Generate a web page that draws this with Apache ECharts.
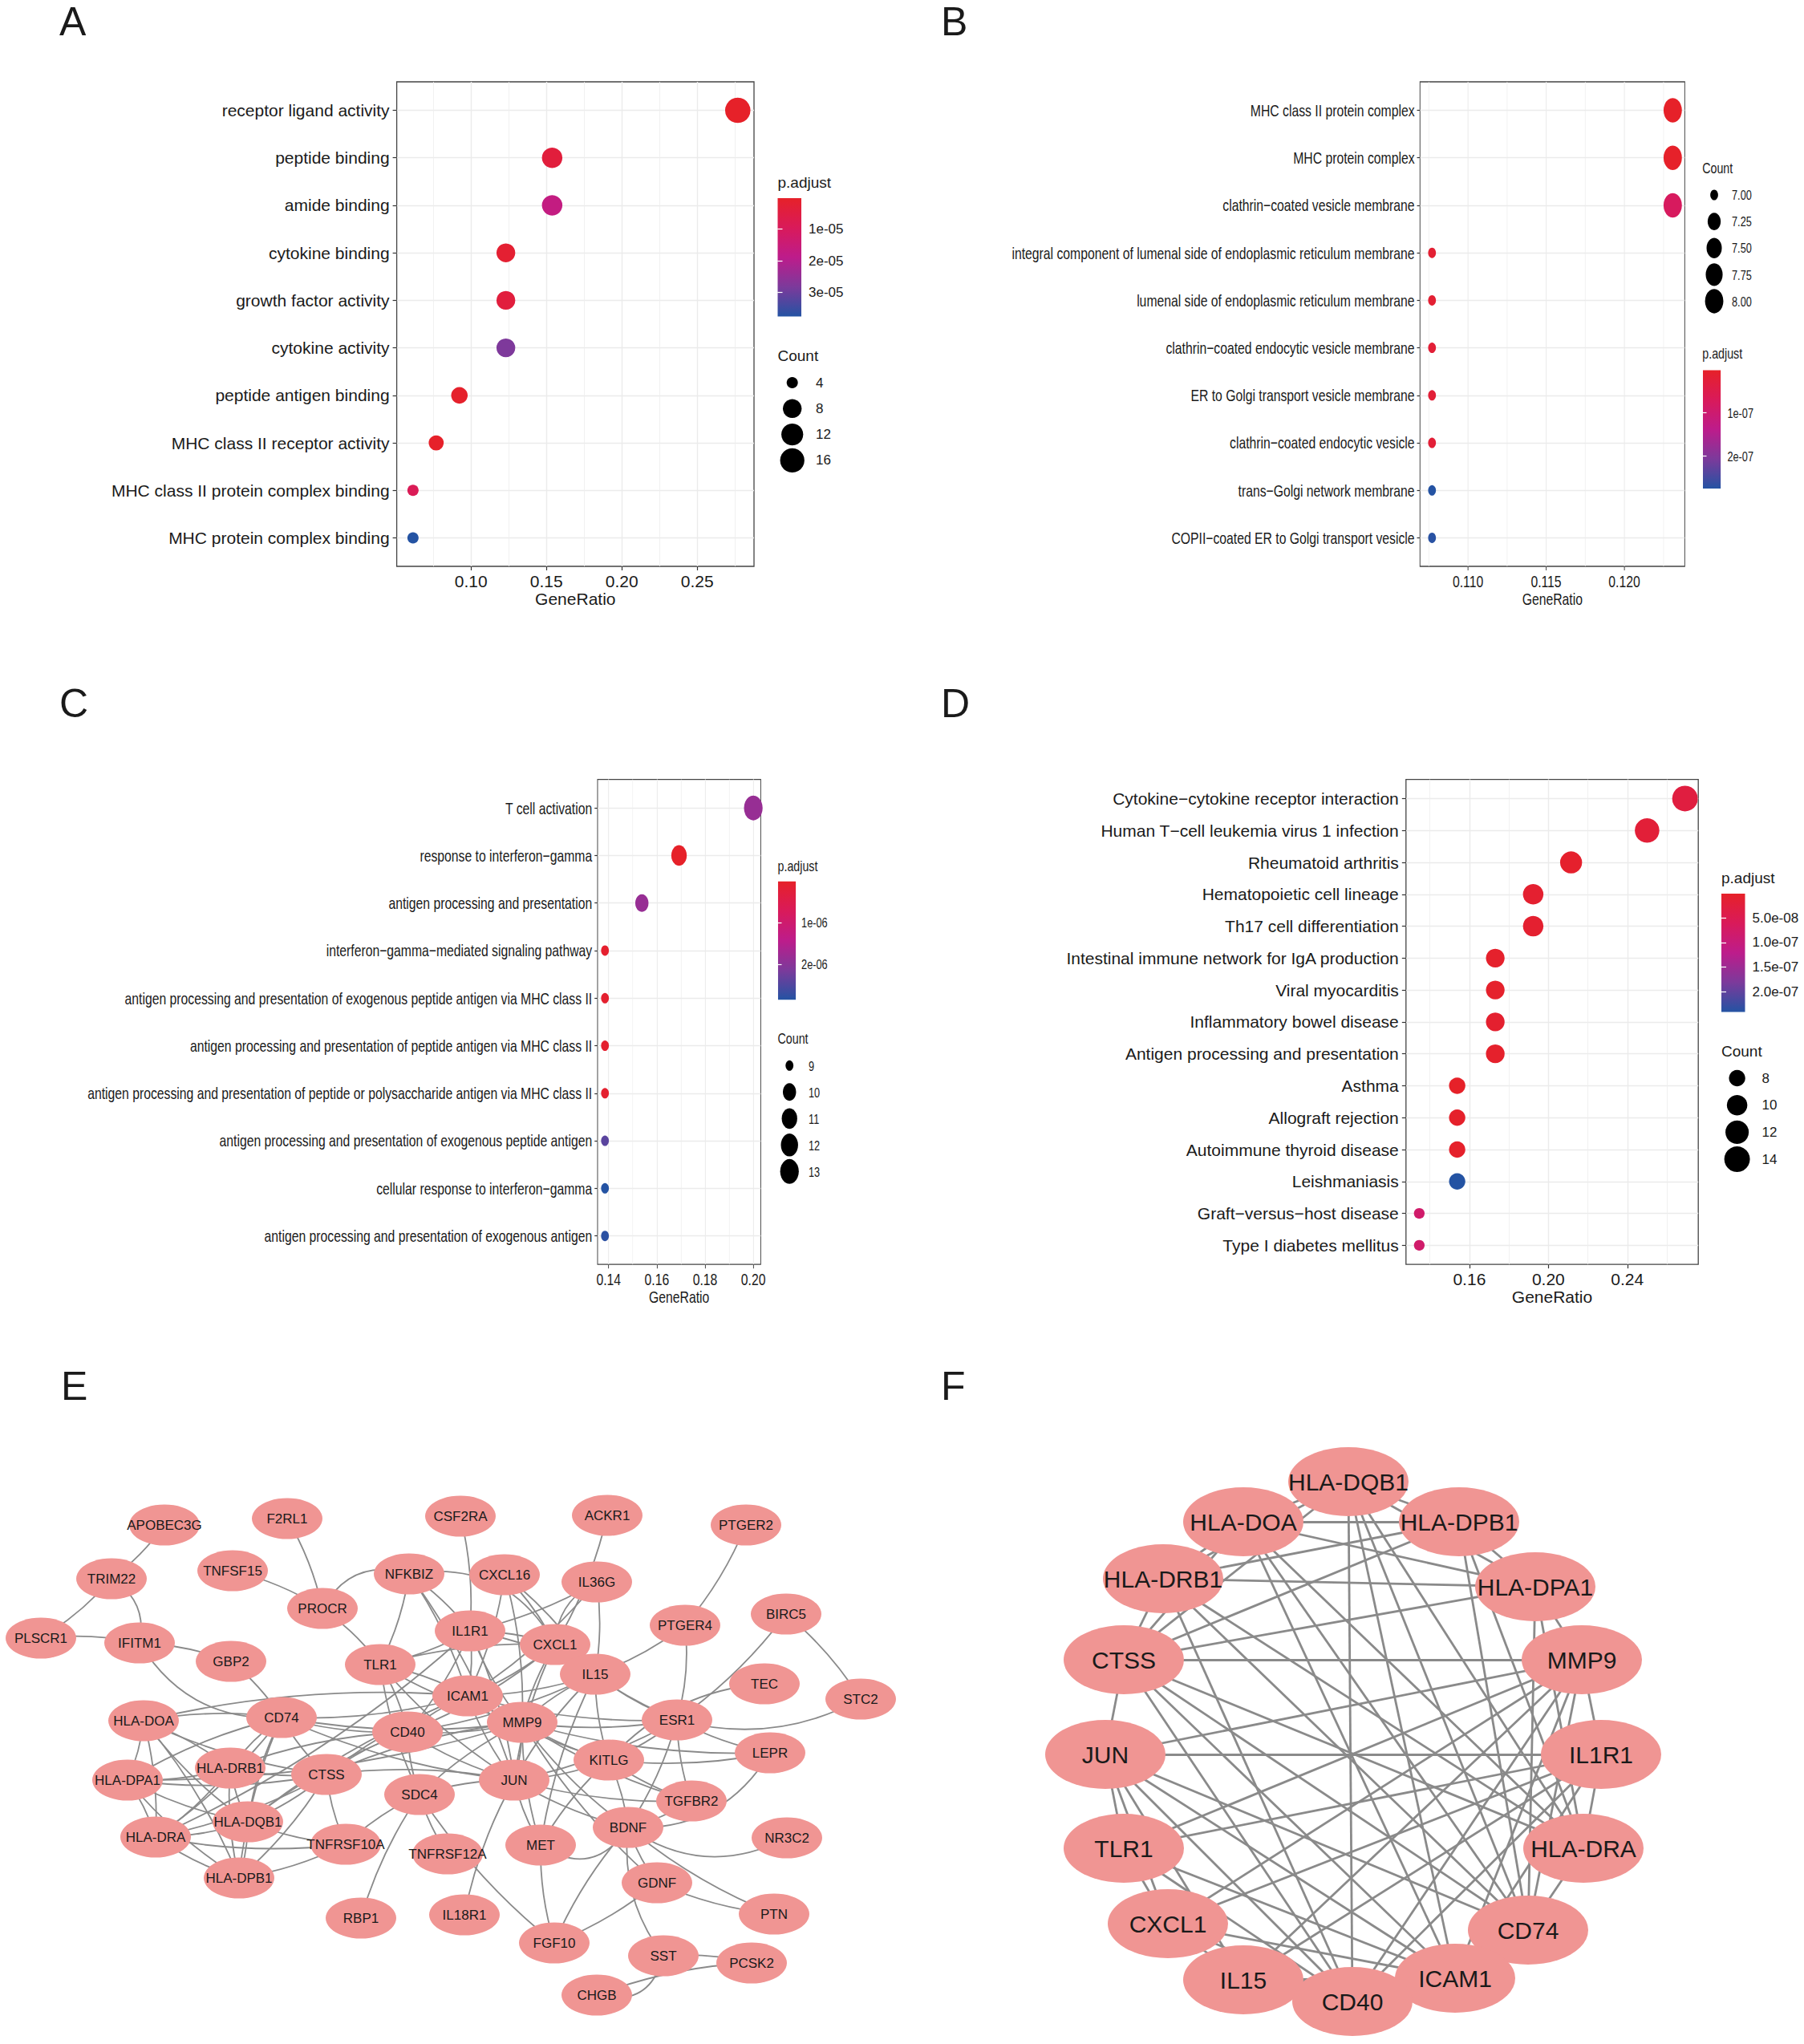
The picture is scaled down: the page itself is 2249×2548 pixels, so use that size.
<!DOCTYPE html>
<html><head><meta charset="utf-8">
<script src="https://cdn.jsdelivr.net/npm/echarts@6/dist/echarts.min.js"></script>
<style>
html,body{margin:0;padding:0;background:#fff;overflow:hidden;}
#page{position:relative;width:2249px;height:2548px;overflow:hidden;background:#fff;}
.pane{position:absolute;}
</style></head><body><div id="page">
<div id="letters" class="pane" style="left:0;top:0;width:2249px;height:2548px"></div>
<div id="pA" class="pane" style="left:0;top:0;width:1124px;height:840px"></div>
<div id="pB" class="pane" style="left:1124px;top:0;width:1500px;height:840px;transform:scaleX(0.75);transform-origin:0 0"></div>
<div id="pC" class="pane" style="left:0;top:840px;width:1498px;height:860px;transform:scaleX(0.75);transform-origin:0 0"></div>
<div id="pD" class="pane" style="left:1124px;top:840px;width:1125px;height:860px"></div>
<div id="pE" class="pane" style="left:0;top:1700px;width:1124px;height:848px"></div>
<div id="pF" class="pane" style="left:1124px;top:1700px;width:1125px;height:848px"></div>
</div>
<script>
// ---------------- DATA ----------------
// Panel A (GO MF)
const catA = ['receptor ligand activity','peptide binding','amide binding','cytokine binding','growth factor activity','cytokine activity','peptide antigen binding','MHC class II receptor activity','MHC class II protein complex binding','MHC protein complex binding'];
const ratioA = [0.2769,0.1538,0.1538,0.1231,0.1231,0.1231,0.0923,0.0769,0.0615,0.0615];
const countA = [18,10,10,8,8,8,6,5,4,4];
const padjA = [2e-7,3.8e-6,1.7e-5,1.9e-6,4.0e-6,2.8e-5,8e-7,4e-7,8.7e-6,3.76e-5];
const xTicksA = [0.10,0.15,0.20,0.25];
const xMinorA = [0.075,0.125,0.175,0.225,0.275];
const pTicksA = [1e-5,2e-5,3e-5];
const pLabelsA = ['1e-05','2e-05','3e-05'];
const keysA = [4,8,12,16];
const keyLabelsA = ['4','8','12','16'];

// Panel B (GO CC)
const catB = ['MHC class II protein complex','MHC protein complex','clathrin\u2212coated vesicle membrane','integral component of lumenal side of endoplasmic reticulum membrane','lumenal side of endoplasmic reticulum membrane','clathrin\u2212coated endocytic vesicle membrane','ER to Golgi transport vesicle membrane','clathrin\u2212coated endocytic vesicle','trans\u2212Golgi network membrane','COPII\u2212coated ER to Golgi transport vesicle'];
const ratioB = [0.1231,0.1231,0.1231,0.1077,0.1077,0.1077,0.1077,0.1077,0.1077,0.1077];
const countB = [8,8,8,7,7,7,7,7,7,7];
const padjB = [1e-9,3e-9,7.5e-8,1.5e-8,1.5e-8,2e-8,2e-8,2e-8,2.76e-7,2.72e-7];
const xTicksB = [0.110,0.115,0.120];
const xMinorB = [0.1075,0.1125,0.1175,0.1225];
const pTicksB = [1e-7,2e-7];
const pLabelsB = ['1e-07','2e-07'];
const keysB = [7,7.25,7.5,7.75,8];
const keyLabelsB = ['7.00','7.25','7.50','7.75','8.00'];

// Panel C (GO BP)
const catC = ['T cell activation','response to interferon\u2212gamma','antigen processing and presentation','interferon\u2212gamma\u2212mediated signaling pathway','antigen processing and presentation of exogenous peptide antigen via MHC class II','antigen processing and presentation of peptide antigen via MHC class II','antigen processing and presentation of peptide or polysaccharide antigen via MHC class II','antigen processing and presentation of exogenous peptide antigen','cellular response to interferon\u2212gamma','antigen processing and presentation of exogenous antigen'];
const ratioC = [0.2000,0.1692,0.1538,0.1385,0.1385,0.1385,0.1385,0.1385,0.1385,0.1385];
const countC = [13,11,10,9,9,9,9,9,9,9];
const padjC = [1.85e-6,1e-8,1.85e-6,8e-8,1e-7,1e-7,1e-7,2.42e-6,2.854e-6,2.8e-6];
const xTicksC = [0.14,0.16,0.18,0.20];
const xMinorC = [0.15,0.17,0.19];
const pTicksC = [1e-6,2e-6];
const pLabelsC = ['1e-06','2e-06'];
const keysC = [9,10,11,12,13];
const keyLabelsC = ['9','10','11','12','13'];

// Panel D (KEGG)
const catD = ['Cytokine\u2212cytokine receptor interaction','Human T\u2212cell leukemia virus 1 infection','Rheumatoid arthritis','Hematopoietic cell lineage','Th17 cell differentiation','Intestinal immune network for IgA production','Viral myocarditis','Inflammatory bowel disease','Antigen processing and presentation','Asthma','Allograft rejection','Autoimmune thyroid disease','Leishmaniasis','Graft\u2212versus\u2212host disease','Type I diabetes mellitus'];
const ratioD = [0.2692,0.2500,0.2115,0.1923,0.1923,0.1731,0.1731,0.1731,0.1731,0.1538,0.1538,0.1538,0.1538,0.1346,0.1346];
const countD = [14,13,11,10,10,9,9,9,9,8,8,8,8,7,7];
const padjD = [2.9e-8,1.9e-8,6e-9,9e-9,9e-9,5e-9,5e-9,8e-9,5e-9,1e-9,4e-9,4e-9,2.41e-7,8e-8,8e-8];
const xTicksD = [0.16,0.20,0.24];
const xMinorD = [0.14,0.18,0.22,0.26];
const pTicksD = [5e-8,1e-7,1.5e-7,2e-7];
const pLabelsD = ['5.0e-08','1.0e-07','1.5e-07','2.0e-07'];
const keysD = [8,10,12,14];
const keyLabelsD = ['8','10','12','14'];

// Panel E (PPI network) : node layout coordinates
const nodesE = [
 ['APOBEC3G',205,201],['F2RL1',358,193],['CSF2RA',574,190],['ACKR1',757,189],['PTGER2',930,201],
 ['TRIM22',139,268],['TNFSF15',290,258],['NFKBIZ',510,262],['CXCL16',629,263],['IL36G',744,272],
 ['PROCR',402,305],['PTGER4',854,326],['BIRC5',980,312],['PLSCR1',51,342],['IFITM1',174,348],
 ['IL1R1',586,333],['CXCL1',692,350],['GBP2',288,371],['TLR1',474,375],['IL15',742,387],
 ['TEC',953,399],['STC2',1073,418],['ICAM1',583,414],['HLA-DOA',179,445],['CD74',351,441],
 ['CD40',508,459],['MMP9',651,447],['ESR1',844,444],['LEPR',960,485],['HLA-DRB1',287,504],
 ['HLA-DPA1',159,519],['CTSS',407,512],['KITLG',759,494],['JUN',641,519],['SDC4',523,537],
 ['TGFBR2',862,545],['HLA-DQB1',309,571],['BDNF',783,578],['NR3C2',981,591],['HLA-DRA',194,590],
 ['TNFRSF10A',431,599],['MET',674,600],['TNFRSF12A',558,611],['HLA-DPB1',298,641],['GDNF',819,647],
 ['RBP1',450,691],['IL18R1',579,687],['PTN',965,686],['FGF10',691,722],['SST',827,738],
 ['PCSK2',937,747],['CHGB',744,787]
];
// Panel F (hub genes) : node layout coordinates
const nodesF = [
 ['HLA-DQB1',557,147],['HLA-DOA',426,197],['HLA-DPB1',695,197],['HLA-DRB1',326,268],['HLA-DPA1',790,278],
 ['CTSS',277,369],['MMP9',848,369],['JUN',254,487],['IL1R1',872,487],['TLR1',277,604],['HLA-DRA',850,604],
 ['CXCL1',332,698],['CD74',781,706],['IL15',426,768],['ICAM1',690,766],['CD40',562,795]
];
// Edges among hub genes (present in both E and F)
const hubEdges = [
 ['HLA-DQB1','HLA-DOA'],['HLA-DQB1','HLA-DPB1'],['HLA-DOA','HLA-DPB1'],['HLA-DOA','HLA-DRB1'],['HLA-DOA','HLA-DPA1'],
 ['HLA-DPB1','HLA-DRB1'],['HLA-DPB1','HLA-DPA1'],['HLA-DRB1','HLA-DPA1'],['HLA-DQB1','HLA-DRB1'],['HLA-DQB1','HLA-DPA1'],
 ['HLA-DQB1','CD74'],['HLA-DQB1','HLA-DRA'],['HLA-DOA','CD74'],['HLA-DOA','HLA-DRA'],['HLA-DRB1','CD74'],
 ['HLA-DRB1','HLA-DRA'],['HLA-DPB1','CD74'],['HLA-DPB1','HLA-DRA'],['HLA-DPA1','CD74'],['HLA-DPA1','HLA-DRA'],
 ['CD74','HLA-DRA'],['CTSS','HLA-DRB1'],['CTSS','HLA-DPB1'],['CTSS','HLA-DPA1'],['CTSS','HLA-DOA'],['CTSS','HLA-DQB1'],
 ['CTSS','CD74'],['CTSS','HLA-DRA'],['CTSS','MMP9'],['CTSS','JUN'],['CTSS','CD40'],['CTSS','ICAM1'],
 ['HLA-DQB1','CD40'],['HLA-DQB1','ICAM1'],['HLA-DOA','ICAM1'],['HLA-DRB1','CD40'],
 ['MMP9','JUN'],['MMP9','TLR1'],['MMP9','CXCL1'],['MMP9','CD40'],['MMP9','ICAM1'],['MMP9','CD74'],
 ['MMP9','IL1R1'],['MMP9','HLA-DPA1'],['MMP9','IL15'],
 ['IL1R1','JUN'],['IL1R1','TLR1'],['IL1R1','CXCL1'],['IL1R1','IL15'],['IL1R1','CD40'],['IL1R1','ICAM1'],['IL1R1','HLA-DRA'],
 ['JUN','TLR1'],['JUN','CXCL1'],['JUN','CD40'],['JUN','ICAM1'],['JUN','CD74'],['JUN','IL15'],
 ['TLR1','CXCL1'],['TLR1','CD40'],['TLR1','ICAM1'],['CXCL1','IL15'],['CXCL1','CD40'],['CXCL1','ICAM1'],
 ['IL15','CD40'],['IL15','ICAM1'],['CD40','ICAM1'],['CD40','CD74'],['ICAM1','CD74']
];
// Other edges of the full network (E)
const otherEdges = [
 ['APOBEC3G','TRIM22'],['TRIM22','PLSCR1'],['TRIM22','IFITM1'],['PLSCR1','IFITM1'],['IFITM1','GBP2'],['IFITM1','CD74'],
 ['GBP2','CD74'],['F2RL1','PROCR'],['TNFSF15','PROCR'],['PROCR','TLR1'],['PROCR','NFKBIZ'],['NFKBIZ','TLR1'],
 ['NFKBIZ','IL1R1'],['NFKBIZ','CXCL1'],['NFKBIZ','ICAM1'],['NFKBIZ','JUN'],['CSF2RA','IL1R1'],['ACKR1','CXCL1'],
 ['CXCL16','CXCL1'],['CXCL16','ICAM1'],['CXCL16','IL15'],['CXCL16','MMP9'],['IL36G','CXCL1'],['IL36G','IL15'],
 ['IL36G','IL1R1'],['IL36G','ICAM1'],['PTGER2','PTGER4'],['PTGER4','IL15'],['PTGER4','ESR1'],['BIRC5','STC2'],
 ['BIRC5','ESR1'],['STC2','ESR1'],['TEC','KITLG'],['LEPR','ESR1'],['LEPR','KITLG'],['LEPR','BDNF'],['LEPR','MMP9'],
 ['TGFBR2','ESR1'],['TGFBR2','KITLG'],['TGFBR2','BDNF'],['TGFBR2','MMP9'],['TGFBR2','JUN'],['NR3C2','BDNF'],
 ['PTN','BDNF'],['PTN','GDNF'],['GDNF','BDNF'],['GDNF','FGF10'],['GDNF','MMP9'],['FGF10','MET'],['FGF10','SDC4'],
 ['FGF10','BDNF'],['MET','JUN'],['MET','BDNF'],['MET','KITLG'],['MET','MMP9'],['MET','IL15'],['SST','BDNF'],
 ['SST','PCSK2'],['SST','CHGB'],['CHGB','PCSK2'],['IL18R1','JUN'],['RBP1','SDC4'],['TNFRSF12A','SDC4'],
 ['TNFRSF10A','SDC4'],['TNFRSF10A','HLA-DPB1'],['TNFRSF10A','HLA-DRA'],['TNFRSF10A','HLA-DQB1'],['TNFRSF10A','CTSS'],
 ['SDC4','MMP9'],['SDC4','JUN'],['SDC4','CD40'],['SDC4','TLR1'],['ESR1','MMP9'],['ESR1','KITLG'],['ESR1','JUN'],
 ['ESR1','IL15'],['ESR1','BDNF'],['ESR1','CXCL1'],['ESR1','ICAM1'],['KITLG','MMP9'],['KITLG','JUN'],['KITLG','BDNF'],
 ['KITLG','IL15'],['KITLG','ICAM1'],['BDNF','MMP9'],['BDNF','JUN']
];

// ---------------- STYLE ----------------
const FONT = '"Liberation Sans", Arial, Helvetica, sans-serif';
const TXT = '#1a1a1a';
const PAL = ['#E62129','#D91A5A','#BD1C8B','#7C3A9B','#2453A3'];
const bendE = {
 'TRIM22|IFITM1':0.35,'IFITM1|CD74':-0.3,'PROCR|NFKBIZ':0.4,'NFKBIZ|CXCL1':0.35,'STC2|ESR1':0.2,
 'LEPR|BDNF':0.3,'NR3C2|BDNF':0.3,'SST|BDNF':0.2,'SST|CHGB':0.5,'MET|BDNF':-0.5,'PTGER4|ESR1':0.1,
 'TEC|KITLG':-0.2,'IL36G|CXCL1':-0.3
};

function txt(text, x, y, size, extra) {
  return Object.assign({type:'text', x:x, y:y, silent:true,
    style:{text:text, font: size + 'px ' + FONT, fill:TXT, textAlign:'left', align:'left',
      textVerticalAlign:'middle', verticalAlign:'middle'}}, extra || {});
}

function dotOption(p) {
  const n = p.cats.length;
  const lo = Math.min(...p.ratio), hi = Math.max(...p.ratio);
  const ex = 0.05 * (hi - lo);
  const cmin = Math.min(...p.count), cmax = Math.max(...p.count);
  const sz = c => p.size[0] + (p.size[1] - p.size[0]) * Math.sqrt(Math.max(0, (c - cmin) / (cmax - cmin)));
  const pmin = Math.min(...p.padj), pmax = Math.max(...p.padj);
  const pos = p.cats.map((c, i) => n - i);
  const data = p.cats.map((c, i) => [p.ratio[i], n - i, p.count[i], p.padj[i]]);
  const grad = {type:'linear', x:0, y:0, x2:0, y2:1,
    colorStops: PAL.map((c, i) => ({offset: i / (PAL.length - 1), color: c}))};
  const pLab = v => { const i = p.cbTicks.findIndex(t => Math.abs(t - v) < Math.abs(t) * 1e-3); return i >= 0 ? p.cbLabels[i] : ''; };
  const axText = {fontSize:21, color:TXT, fontFamily:FONT};
  const tick = {show:true, length:5, lineStyle:{color:'#333', width:1.2}};
  const major = {show:true, lineStyle:{color:'#EBEBEB', width:1.4}};
  return {
    animation:false,
    grid:[
      {left:p.grid.left, top:p.grid.top, width:p.grid.width, height:p.grid.height, show:true,
        borderColor:'#444', borderWidth:1.3, backgroundColor:'transparent', outerBoundsMode:'none', containLabel:false},
      {left:p.cb.left, top:p.cb.top, width:29.5, height:147.5, show:true, borderWidth:0,
        backgroundColor:grad, outerBoundsMode:'none', containLabel:false},
      {left:p.ck.cx - 15, top:p.ck.top, width:30, height:p.ck.step * p.keys.length, show:false,
        outerBoundsMode:'none', containLabel:false}
    ],
    xAxis:[
      {gridIndex:0, type:'value', min:lo - ex, max:hi + ex, axisLine:{show:false},
        axisTick:Object.assign({customValues:p.xTicks}, tick),
        axisLabel:Object.assign({customValues:p.xTicks, formatter:v => v.toFixed(p.xDec), margin:8}, axText),
        splitLine:major, name:'GeneRatio', nameLocation:'middle', nameGap:30, nameMoveOverlap:false,
        nameTextStyle:axText},
      {gridIndex:0, type:'value', position:'top', min:lo - ex, max:hi + ex, axisLine:{show:false},
        axisTick:{show:false, customValues:p.xMinor}, axisLabel:{show:false},
        splitLine:{show:true, lineStyle:{color:'#EEEEEE', width:0.8}}},
      {gridIndex:1, type:'value', min:0, max:1, show:false},
      {gridIndex:2, type:'category', data:['k'], show:false}
    ],
    yAxis:[
      {gridIndex:0, type:'value', min:0.4, max:n + 0.6, axisLine:{show:false},
        axisTick:Object.assign({customValues:pos}, tick),
        axisLabel:Object.assign({customValues:pos, formatter:v => p.cats[n - Math.round(v)], margin:9}, axText),
        splitLine:major},
      {gridIndex:1, type:'value', position:'right', inverse:true, min:pmin, max:pmax, axisLine:{show:false},
        axisTick:{show:true, inside:true, length:6, customValues:p.cbTicks, lineStyle:{color:'#fff', width:1.2}},
        axisLabel:{customValues:p.cbTicks, formatter:pLab, fontSize:17, color:TXT, fontFamily:FONT, margin:p.cbMargin},
        splitLine:{show:false}},
      {gridIndex:1, type:'value', position:'left', inverse:true, min:pmin, max:pmax, axisLine:{show:false},
        axisTick:{show:true, inside:true, length:6, customValues:p.cbTicks, lineStyle:{color:'#fff', width:1.2}},
        axisLabel:{show:false}, splitLine:{show:false}},
      {gridIndex:2, type:'category', inverse:true, data:p.keyLabels, position:'right', axisLine:{show:false},
        axisTick:{show:false}, axisLabel:{fontSize:17, color:TXT, fontFamily:FONT, margin:p.ck.margin},
        splitLine:{show:false}}
    ],
    visualMap:[{type:'continuous', show:false, seriesIndex:0, dimension:3, min:pmin, max:pmax, inRange:{color:PAL}}],
    series:[
      {type:'scatter', xAxisIndex:0, yAxisIndex:0, data:data, encode:{x:0, y:1},
        symbolSize:v => sz(v[2]), itemStyle:{opacity:1}, silent:true, z:3},
      {type:'scatter', xAxisIndex:3, yAxisIndex:3, data:p.keys.map((k, i) => [0, i, k]),
        symbolSize:v => sz(v[2]), itemStyle:{color:'#000', opacity:1}, silent:true}
    ],
    graphic:[
      txt('p.adjust', p.tPad[0], p.tPad[1], 19),
      txt('Count', p.tCnt[0], p.tCnt[1], 19)
    ]
  };
}

function netOption(nodes, edges, W, H, sym, fs, lw, curv) {
  return {
    animation:false,
    grid:{left:0, top:0, width:W, height:H, show:false, outerBoundsMode:'none', containLabel:false},
    xAxis:{type:'value', min:0, max:W, show:false},
    yAxis:{type:'value', min:0, max:H, inverse:true, show:false},
    series:[{
      type:'graph', layout:'none', coordinateSystem:'cartesian2d', silent:true,
      symbol:'circle', symbolSize:sym,
      itemStyle:{color:'#F09593', opacity:1},
      label:{show:true, position:'inside', fontSize:fs, color:TXT, fontFamily:FONT},
      lineStyle:{color:'#8a8a8a', width:lw, opacity:1},
      emphasis:{disabled:true},
      data:nodes.map(nd => ({name:nd[0], value:[nd[1], nd[2]]})),
      links:edges.map(e => ({source:e[0], target:e[1], lineStyle:{curveness:curv(e)}}))
    }]
  };
}

function mk(id, opt) {
  const c = echarts.init(document.getElementById(id), null, {renderer:'svg'});
  c.setOption(opt);
}

mk('letters', {animation:false, graphic:[
  txt('A', 74, 27, 50), txt('B', 1173, 27, 50), txt('C', 74, 877, 50),
  txt('D', 1173, 877, 50), txt('E', 76, 1728, 50), txt('F', 1173, 1728, 50)
]});

mk('pA', dotOption({cats:catA, ratio:ratioA, count:countA, padj:padjA,
  grid:{left:494.6, top:102, width:445.4, height:604}, xTicks:xTicksA, xMinor:xMinorA, xDec:2,
  size:[14, 31.6], cb:{left:969.5, top:247}, cbTicks:pTicksA, cbLabels:pLabelsA, cbMargin:9,
  ck:{cx:987.7, top:460.85, step:32.3, margin:14.3}, keys:keysA, keyLabels:keyLabelsA,
  tPad:[969.5, 227.5], tCnt:[969.5, 443.6]}));

mk('pB', dotOption({cats:catB, ratio:ratioB, count:countB, padj:padjB,
  grid:{left:861.7, top:102, width:440.1, height:604}, xTicks:xTicksB, xMinor:xMinorB, xDec:3,
  size:[13, 30.5], cb:{left:1332, top:461.6}, cbTicks:pTicksB, cbLabels:pLabelsB, cbMargin:11,
  ck:{cx:1350.7, top:226.45, step:33.1, margin:14.3}, keys:keysB, keyLabels:keyLabelsB,
  tPad:[1331, 441], tCnt:[1331, 209.9]}));

mk('pC', dotOption({cats:catC, ratio:ratioC, count:countC, padj:padjC,
  grid:{left:993.3, top:131.6, width:271.2, height:604.6}, xTicks:xTicksC, xMinor:xMinorC, xDec:2,
  size:[13, 31], cb:{left:1293.3, top:258.7}, cbTicks:pTicksC, cbLabels:pLabelsC, cbMargin:9.3,
  ck:{cx:1312.3, top:471.8, step:33, margin:16.7}, keys:keysC, keyLabels:keyLabelsC,
  tPad:[1292.7, 240], tCnt:[1292.7, 454.9]}));

mk('pD', dotOption({cats:catD, ratio:ratioD, count:countD, padj:padjD,
  grid:{left:628.8, top:131.6, width:364.4, height:604.6}, xTicks:xTicksD, xMinor:xMinorD, xDec:2,
  size:[13.3, 32], cb:{left:1022, top:274}, cbTicks:pTicksD, cbLabels:pLabelsD, cbMargin:9,
  ck:{cx:1041.6, top:487.15, step:33.7, margin:15.9}, keys:keysD, keyLabels:keyLabelsD,
  tPad:[1022, 254], tCnt:[1022, 470.4]}));

mk('pE', netOption(nodesE, hubEdges.concat(otherEdges), 1124, 848, [88, 51], 17, 1.8,
  e => (bendE[e[0] + '|' + e[1]] !== undefined ? bendE[e[0] + '|' + e[1]] : 0.08)));

mk('pF', netOption(nodesF, hubEdges, 1125, 848, [150, 86], 30, 2.8, e => 0));
</script>
</body></html>
